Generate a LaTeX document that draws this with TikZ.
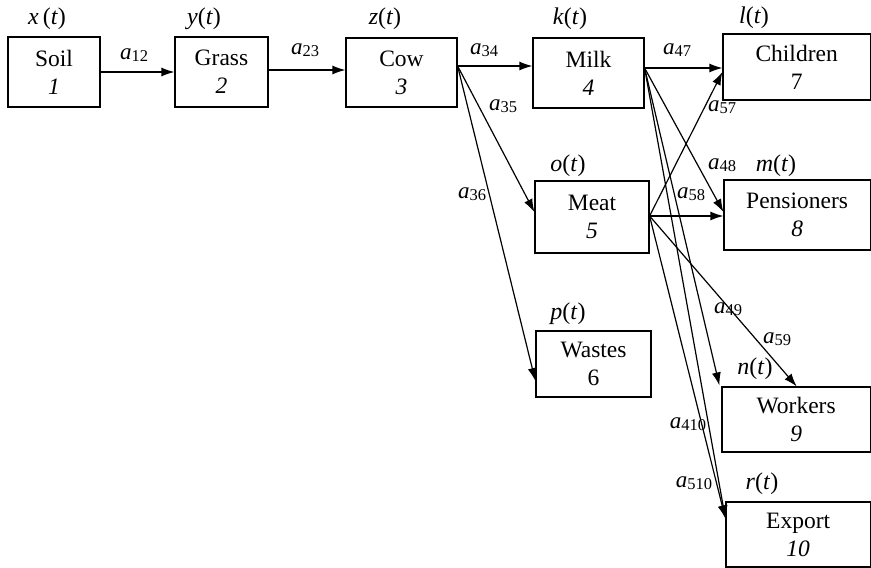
\documentclass[tikz,border=0pt]{standalone}
\usepackage{fontspec}
\setmainfont{Liberation Serif}
\usetikzlibrary{arrows.meta,calc}
\newcommand\edgelab[1]{\textit{a}\raisebox{-2.5pt}{\fontsize{16.5}{16.5}\selectfont #1}}
\newcommand\tl[1]{\textit{#1}(\textit{t})}
\begin{document}
\begin{tikzpicture}[x=1pt,y=-1pt,
  box/.style={draw, line width=1.2pt, align=center, inner sep=0pt, font=\fontsize{23.5}{28}\selectfont},
  tlab/.style={font=\fontsize{24}{24}\selectfont, inner sep=0pt},
  elab/.style={font=\fontsize{23}{23}\selectfont, inner sep=0pt},
  arr/.style={line width=1.2pt, -{Latex[length=13pt,width=9pt]}}]
\useasboundingbox (0,0) rectangle (871,568);
% boxes
\node[box, minimum width=92pt, minimum height=70pt] (soil) at (54,72) {Soil\\\textit{1}};
\node[box, minimum width=93pt, minimum height=70pt] (grass) at (221.5,72) {Grass\\\textit{2}};
\node[box, minimum width=111pt, minimum height=69pt] (cow) at (401.5,72.5) {Cow\\\textit{3}};
\node[box, minimum width=111pt, minimum height=70pt] (milk) at (588.5,73) {Milk\\\textit{4}};
\node[box, minimum width=147.3pt, minimum height=66pt] (children) at (796.65,67) {Children\\7};
\node[box, minimum width=114pt, minimum height=72pt] (meat) at (592,217) {Meat\\\textit{5}};
\node[box, minimum width=146.3pt, minimum height=70pt] (pens) at (797.15,215) {Pensioners\\\textit{8}};
\node[box, minimum width=115pt, minimum height=66pt] (wastes) at (593.5,364) {Wastes\\6};
\node[box, minimum width=148.3pt, minimum height=65pt] (workers) at (796.15,419.5) {Workers\\\textit{9}};
\node[box, minimum width=144.3pt, minimum height=65pt] (export) at (798.15,534.5) {Export\\\textit{10}};
% top labels
\node[tlab] (lx) at (47,19) {\textit{x}\,(\textit{t})};
\node[tlab] (ly) at (204,19) {\tl{y}};
\node[tlab] (lz) at (385,19) {\tl{z}};
\node[tlab] (lk) at (570,19) {\tl{k}};
\node[tlab] (ll) at (754,18) {\tl{l}};
\node[tlab] (lo) at (568,166) {\tl{o}};
\node[tlab] (lm) at (776,166) {\tl{m}};
\node[tlab] (lp) at (568,314) {\tl{p}};
\node[tlab] (ln) at (755,369) {\tl{n}};
\node[tlab] (lr) at (762,484) {\tl{r}};
% connection points
\coordinate (cowout) at ($(cow.east)+(0,-6.5)$);
\coordinate (milkout) at ($(milk.east)+(0,-5)$);
\coordinate (meatout) at ($(meat.east)+(0,-1)$);
\coordinate (expin) at ($(export.west)+(0,-16)$);
% edges
\draw[arr] (soil.east) -- (grass.west);
\draw[arr] ($(grass.east)+(0,-2)$) -- ($(cow.west)+(0,-2.5)$);
\draw[arr] (cowout) -- ($(milk.west)+(0,-7)$);
\draw[arr] (cowout) -- ($(meat.west)+(0,-5)$);
\draw[arr] (cowout) -- ($(wastes.west)+(0,17)$);
\draw[arr] (milkout) -- ($(children.west)+(0,1)$);
\draw[arr] (milkout) -- ($(pens.west)+(0,-3)$);
\draw[arr] (milkout) -- ($(workers.north west)+(-2,-1)$);
\draw[arr] (milkout) -- (expin);
\draw[arr] (meatout) -- ($(children.west)+(0,5)$);
\draw[arr] (meatout) -- ($(pens.west)+(0,1)$);
\draw[arr] (meatout) -- ($(workers.north)+(0.5,0)$);
\draw[arr] (meatout) -- (expin);
% edge labels
\node[elab] (e12) at (134,55) {\edgelab{12}};
\node[elab] (e23) at (305,50) {\edgelab{23}};
\node[elab] (e34) at (484,50) {\edgelab{34}};
\node[elab] (e35) at (503,106) {\edgelab{35}};
\node[elab] (e36) at (472,194) {\edgelab{36}};
\node[elab] (e47) at (677,50) {\edgelab{47}};
\node[elab] (e57) at (722,107) {\edgelab{57}};
\node[elab] (e48) at (722,165) {\edgelab{48}};
\node[elab] (e58) at (691,194) {\edgelab{58}};
\node[elab] (e49) at (728,309) {\edgelab{49}};
\node[elab] (e59) at (777,339) {\edgelab{59}};
\node[elab] (e410) at (688,424) {\edgelab{410}};
\node[elab] (e510) at (694,483) {\edgelab{510}};
\end{tikzpicture}
\end{document}
